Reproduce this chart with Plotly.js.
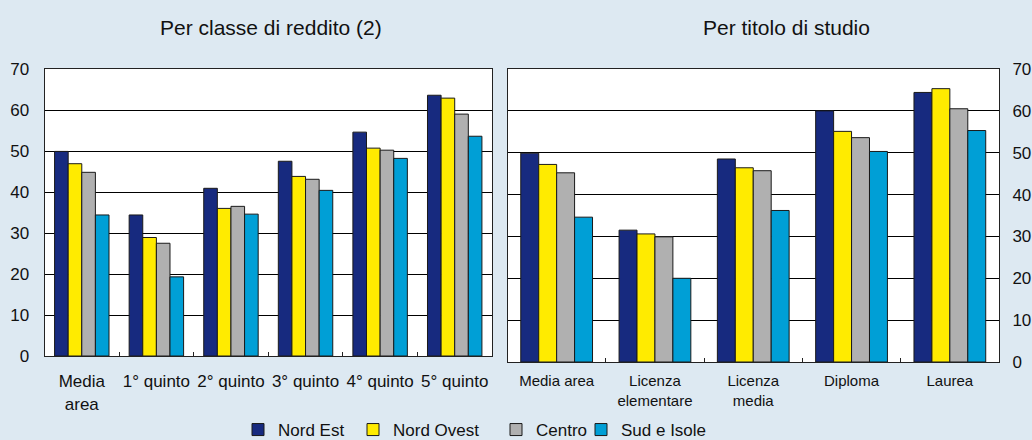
<!DOCTYPE html>
<html>
<head>
<meta charset="utf-8">
<script src="https://cdn.plot.ly/plotly-3.0.1.min.js"></script>
<style>
html,body{margin:0;padding:0;background:#dde9f2;}
#chart{width:1032px;height:440px;}
</style>
</head>
<body>
<div id="chart"></div>
<script>
// ---- Data ----
const seriesNames = ["Nord Est", "Nord Ovest", "Centro", "Sud e Isole"];
const seriesColors = ["#172a7f", "#ffeb00", "#b0b0b0", "#009fd6"];

const incomeCategories = ["Media<br>area", "1° quinto", "2° quinto", "3° quinto", "4° quinto", "5° quinto"];
const incomeNordEst    = [49.9, 34.4, 40.9, 47.5, 54.6, 63.6];
const incomeNordOvest  = [46.9, 28.9, 36.0, 43.8, 50.7, 62.9];
const incomeCentro     = [44.8, 27.5, 36.5, 43.1, 50.2, 59.0];
const incomeSud        = [34.4, 19.3, 34.6, 40.4, 48.2, 53.6];

const eduCategories = ["Media area", "Licenza<br>elementare", "Licenza<br>media", "Diploma", "Laurea"];
const eduNordEst    = [49.9, 31.5, 48.5, 60.0, 64.4];
const eduNordOvest  = [47.2, 30.6, 46.4, 55.1, 65.3];
const eduCentro     = [45.2, 29.9, 45.7, 53.6, 60.5];
const eduSud        = [34.6, 20.0, 36.2, 50.3, 55.3];

const yTickVals = [0, 10, 20, 30, 40, 50, 60, 70];

const incomeSeries = [incomeNordEst, incomeNordOvest, incomeCentro, incomeSud];
const eduSeries = [eduNordEst, eduNordOvest, eduCentro, eduSud];

const FONT = "'Liberation Sans', Arial, sans-serif";
const traces = [];
const legendIds = ["legend", "legend2", "legend3", "legend4"];
for (let i = 0; i < 4; i++) {
  traces.push({
    type: "bar", name: seriesNames[i], x: incomeCategories, y: incomeSeries[i],
    xaxis: "x", yaxis: "y",
    marker: {color: seriesColors[i], line: {color: "#1a1a1a", width: 1}},
    legend: legendIds[i], showlegend: true, hoverinfo: "y+name"
  });
}
for (let i = 0; i < 4; i++) {
  traces.push({
    type: "bar", name: seriesNames[i], x: eduCategories, y: eduSeries[i],
    xaxis: "x2", yaxis: "y2",
    marker: {color: seriesColors[i], line: {color: "#1a1a1a", width: 1}},
    showlegend: false, hoverinfo: "y+name"
  });
}

const W = 1032, H = 440;
const px = v => v / W, py = v => 1 - v / H;

function legendAt(textX) {
  return {
    x: px(textX - 37), xanchor: "left", y: py(430), yanchor: "middle",
    orientation: "h", bgcolor: "rgba(0,0,0,0)", borderwidth: 0,
    font: {family: FONT, size: 17, color: "#111"}
  };
}

const yBase = {
  range: [0, 70], tickvals: yTickVals, showgrid: true, gridcolor: "#000", gridwidth: 1,
  zeroline: false, showline: true, linecolor: "#222", linewidth: 1, mirror: true,
  ticks: "", tickfont: {family: FONT, size: 17, color: "#111"}, ticklabelstandoff: 11,
  fixedrange: true
};
const xBase = {
  type: "category", showline: true, linecolor: "#222", linewidth: 1, mirror: true,
  showgrid: false, ticks: "inside", ticklen: 4, tickcolor: "#222", tickson: "boundaries",
  tickangle: 0, fixedrange: true
};

const layout = {
  width: W, height: H,
  paper_bgcolor: "#dde9f2", plot_bgcolor: "#ffffff",
  margin: {l: 0, r: 0, t: 0, b: 0, autoexpand: false},
  barmode: "group", bargap: 0.27, bargroupgap: 0,
  font: {family: FONT, color: "#111"},
  xaxis: Object.assign({}, xBase, {domain: [px(44.5), px(492)], anchor: "y",
    tickfont: {family: FONT, size: 17, color: "#111"}, ticklabelstandoff: 10}),
  yaxis: Object.assign({}, yBase, {domain: [py(356), py(69)], anchor: "x", side: "left"}),
  xaxis2: Object.assign({}, xBase, {domain: [px(507.5), px(999)], anchor: "y2",
    tickfont: {family: FONT, size: 15, color: "#111"}, ticklabelstandoff: 5}),
  yaxis2: Object.assign({}, yBase, {domain: [py(362), py(69)], anchor: "x2", side: "right",
    ticklabelstandoff: 9}),
  legend: legendAt(275),
  legend2: legendAt(390),
  legend3: legendAt(533),
  legend4: legendAt(618),
  annotations: [
    {text: "Per classe di reddito (2)", x: px(271), y: py(27), xref: "paper", yref: "paper",
     xanchor: "center", yanchor: "middle", showarrow: false, font: {family: FONT, size: 21, color: "#111"}},
    {text: "Per titolo di studio", x: px(786), y: py(27), xref: "paper", yref: "paper",
     xanchor: "center", yanchor: "middle", showarrow: false, font: {family: FONT, size: 21, color: "#111"}}
  ]
};

Plotly.newPlot("chart", traces, layout, {displayModeBar: false, staticPlot: true});
</script>
</body>
</html>
